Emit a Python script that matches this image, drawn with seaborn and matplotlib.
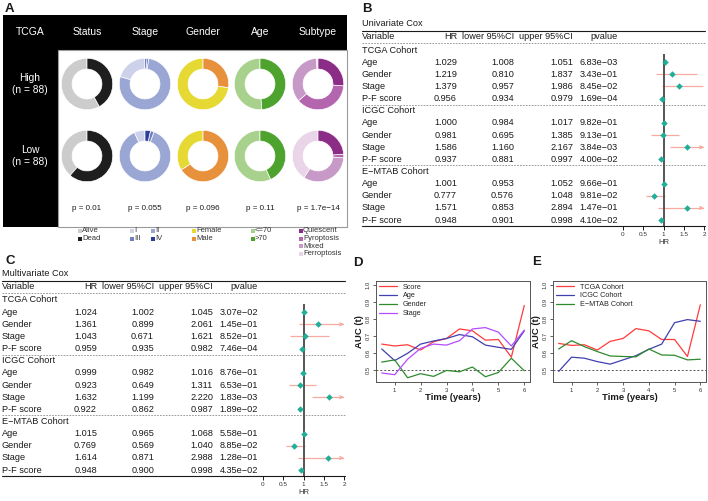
import matplotlib
matplotlib.use("Agg")
import matplotlib.pyplot as plt
from matplotlib.patches import Rectangle
import seaborn as sns
import pandas as pd

sns.set_theme(style="white")
plt.rcParams['font.family'] = ['Liberation Sans', 'DejaVu Sans']

W, H = 708, 501

# ---------------- panel A data ----------------
features = ["Status", "Stage", "Gender", "Age", "Subtype"]
group_labels = ["High\n(n = 88)", "Low\n(n = 88)"]
status_levels = ["Alive", "Dead"]
stage_levels = ["I", "II", "III", "IV"]
gender_levels = ["Female", "Male"]
age_levels = ["<=70", ">70"]
subtype_levels = ["Ferroptosis", "Mixed", "Pyroptosis", "Quiescent"]

status_high = [51, 37]
status_low = [34, 54]
stage_high = [18, 68, 1, 1]
stage_low = [6, 77, 2, 3]
gender_high = [64, 24]
gender_low = [30, 58]
age_high = [45, 43]
age_low = [50, 38]
subtype_high = [1, 31, 33, 23]
subtype_low = [36, 29, 2, 21]

p_values = ["p = 0.01", "p = 0.055", "p = 0.096", "p = 0.11", "p = 1.7e\u221214"]

status_colors = ["#cccccc", "#1e1e1e"]
stage_colors = ["#cdd2ea", "#9aa6d3", "#6e7dc1", "#2c3e9c"]
gender_colors = ["#e7d933", "#e8913d"]
age_colors = ["#a9d18e", "#4ea22e"]
subtype_colors = ["#e9d4e8", "#c799c7", "#b366ae", "#8b2c87"]

# ---------------- panel B / C data ----------------
cohorts = ["TCGA Cohort", "ICGC Cohort", "E\u2212MTAB Cohort"]
variables = ["Age", "Gender", "Stage", "P-F score"]

uni_hr = [1.029, 1.219, 1.379, 0.956, 1.000, 0.981, 1.586, 0.937, 1.001, 0.777, 1.571, 0.948]
uni_lower = [1.008, 0.810, 0.957, 0.934, 0.984, 0.695, 1.160, 0.881, 0.953, 0.576, 0.853, 0.901]
uni_upper = [1.051, 1.837, 1.986, 0.979, 1.017, 1.385, 2.167, 0.997, 1.052, 1.048, 2.894, 0.998]
uni_p = ["6.83e\u221203", "3.43e\u221201", "8.45e\u221202", "1.69e\u221204",
         "9.82e\u221201", "9.13e\u221201", "3.84e\u221203", "4.00e\u221202",
         "9.66e\u221201", "9.81e\u221202", "1.47e\u221201", "4.10e\u221202"]

multi_hr = [1.024, 1.361, 1.043, 0.959, 0.999, 0.923, 1.632, 0.922, 1.015, 0.769, 1.614, 0.948]
multi_lower = [1.002, 0.899, 0.671, 0.935, 0.982, 0.649, 1.199, 0.862, 0.965, 0.569, 0.871, 0.900]
multi_upper = [1.045, 2.061, 1.621, 0.982, 1.016, 1.311, 2.220, 0.987, 1.068, 1.040, 2.988, 0.998]
multi_p = ["3.07e\u221202", "1.45e\u221201", "8.52e\u221201", "7.46e\u221204",
           "8.76e\u221201", "6.53e\u221201", "1.83e\u221203", "1.89e\u221202",
           "5.58e\u221201", "8.85e\u221202", "1.28e\u221201", "4.35e\u221202"]

# ---------------- panel D / E data ----------------
times = [0.5, 1, 1.5, 2, 2.5, 3, 3.5, 4, 4.5, 5, 5.5, 6]
auc_score = [0.651, 0.640, 0.647, 0.616, 0.665, 0.684, 0.740, 0.729, 0.674, 0.678, 0.574, 0.878]
auc_age = [0.622, 0.554, 0.597, 0.651, 0.669, 0.684, 0.707, 0.694, 0.645, 0.632, 0.620, 0.729]
auc_gender = [0.545, 0.558, 0.453, 0.477, 0.461, 0.496, 0.488, 0.516, 0.459, 0.484, 0.568, 0.494]
auc_stage = [0.481, 0.471, 0.562, 0.626, 0.651, 0.645, 0.671, 0.740, 0.748, 0.721, 0.640, 0.733]

auc_tcga = [0.655, 0.643, 0.647, 0.616, 0.667, 0.684, 0.742, 0.729, 0.678, 0.678, 0.578, 0.882]
auc_icgc = [0.490, 0.574, 0.568, 0.548, 0.533, 0.558, 0.583, 0.620, 0.651, 0.777, 0.795, 0.785]
auc_emtab = [0.622, 0.671, 0.636, 0.607, 0.581, 0.578, 0.576, 0.622, 0.587, 0.585, 0.558, 0.562]

fig = plt.figure(figsize=(W / 100, H / 100), dpi=100)


def px_axes(x0, y0, x1, y1):
    return fig.add_axes([x0 / W, 1 - y1 / H, (x1 - x0) / W, (y1 - y0) / H])


ov = px_axes(0, 0, W, H)
ov.set_xlim(0, W)
ov.set_ylim(H, 0)
ov.axis('off')

ink = "#1a1a1a"

# panel letters
for letter, (lx, ly) in zip("ABCDE", [(5, 9), (362, 9), (5, 261), (353, 263), (532, 262)]):
    ov.text(lx, ly, letter, fontsize=9.5, fontweight='bold', va='center', ha='left', color=ink)

# ---------------- panel A ----------------
ov.add_patch(Rectangle((3, 15), 344, 212, facecolor='black', edgecolor='none'))
ov.add_patch(Rectangle((58, 50), 289, 177, facecolor='white', edgecolor='#9a9a9a', lw=0.8))

col_x = [87, 145, 203, 260, 318]
row_y = [84, 156]
ov.text(30, 32, "TCGA", color='white', fontsize=7.5, ha='center', va='center')
for cx, feat in zip(col_x, features):
    ov.text(cx, 32, feat, color='white', fontsize=7.5, ha='center', va='center')
for cy, lab in zip(row_y, group_labels):
    ov.text(30, cy, lab, color='white', fontsize=7.3, ha='center', va='center', linespacing=1.15)

pie_data = [
    (status_high, status_low, status_colors),
    (stage_high, stage_low, stage_colors),
    (gender_high, gender_low, gender_colors),
    (age_high, age_low, age_colors),
    (subtype_high, subtype_low, subtype_colors),
]
for cx, (hi, lo, cols) in zip(col_x, pie_data):
    for cy, counts in zip(row_y, [hi, lo]):
        pax = px_axes(cx - 26, cy - 26, cx + 26, cy + 26)
        pax.pie(counts, colors=cols, startangle=90, counterclock=True,
                wedgeprops=dict(width=0.42, edgecolor='white', linewidth=0.5))
        pax.set_xlim(-1.01, 1.01)
        pax.set_ylim(-1.01, 1.01)

for cx, p in zip(col_x, p_values):
    ov.text(cx, 208, p, fontsize=5.8, ha='center', va='center', color=ink)

legend_rows = [231, 238.5, 246, 253.5]
legend_items = [
    [(78, 0, "Alive", status_colors[0]), (78, 1, "Dead", status_colors[1])],
    [(130, 0, "I", stage_colors[0]), (151, 0, "II", stage_colors[1]),
     (130, 1, "III", stage_colors[2]), (151, 1, "IV", stage_colors[3])],
    [(192, 0, "Female", gender_colors[0]), (192, 1, "Male", gender_colors[1])],
    [(251, 0, "<=70", age_colors[0]), (251, 1, ">70", age_colors[1])],
    [(299, 0, "Quiescent", subtype_colors[3]), (299, 1, "Pyroptosis", subtype_colors[2]),
     (299, 2, "Mixed", subtype_colors[1]), (299, 3, "Ferroptosis", subtype_colors[0])],
]
for items in legend_items:
    for lx, r, lab, c in items:
        ov.scatter([lx + 1.5], [legend_rows[r]], marker='s', s=7, color=c, linewidths=0)
        ov.text(lx + 4, legend_rows[r], lab, fontsize=5.5, va='center', ha='left', color='#333333')


# ---------------- panels B / C ----------------
def draw_cox(x0, y0, title, hr, lower, upper, pvals):
    def ry(k):
        return y0 + 50 + 12.15 * k

    fs = 6.6
    ov.text(x0 + 2, ry(-2.15), title, fontsize=fs, va='center', ha='left', color=ink)
    ov.plot([x0 + 2, x0 + 345], [ry(-1.55)] * 2, color=ink, lw=0.8)
    hy = ry(-1.1)
    ov.text(x0 + 2, hy, "Variable", fontsize=fs, va='center', ha='left', color=ink)
    ov.text(x0 + 97, hy, "HR", fontsize=fs, va='center', ha='right', color=ink)
    ov.text(x0 + 154, hy, "lower 95%CI", fontsize=fs, va='center', ha='right', color=ink)
    ov.text(x0 + 213, hy, "upper 95%CI", fontsize=fs, va='center', ha='right', color=ink)
    ov.text(x0 + 258, hy, "pvalue", fontsize=fs, va='center', ha='right', color=ink)
    for kk in [-0.55, 4.5, 9.5]:
        ov.plot([x0 + 2, x0 + 345], [ry(kk)] * 2, color='#8a8a8a', lw=0.6, ls=(0, (2, 1.5)))
    ov.plot([x0 + 2, x0 + 345], [ry(14.5)] * 2, color=ink, lw=0.8)

    rows = []
    for c, coh in enumerate(cohorts):
        ov.text(x0 + 2, ry(5 * c), coh, fontsize=fs, va='center', ha='left', color=ink)
        for v, var in enumerate(variables):
            i = 4 * c + v
            k = 5 * c + v + 1
            y = ry(k)
            ov.text(x0 + 2, y, var, fontsize=fs, va='center', ha='left', color=ink)
            ov.text(x0 + 97, y, f"{hr[i]:.3f}", fontsize=fs, va='center', ha='right', color=ink)
            ov.text(x0 + 154, y, f"{lower[i]:.3f}", fontsize=fs, va='center', ha='right', color=ink)
            ov.text(x0 + 213, y, f"{upper[i]:.3f}", fontsize=fs, va='center', ha='right', color=ink)
            ov.text(x0 + 258, y, pvals[i], fontsize=fs, va='center', ha='right', color=ink)
            rows.append(dict(k=k, hr=hr[i], lower=lower[i], upper=upper[i]))
    df = pd.DataFrame(rows)

    fax = px_axes(x0 + 263, ry(0.3), x0 + 344, ry(14.5))
    fax.set_facecolor('none')
    line_col = "#f7aaa0"
    fax.hlines(df.k, df.lower, df.upper.clip(upper=2), color=line_col, lw=0.9)
    for _, r in df[df.upper > 2].iterrows():
        fax.annotate('', xy=(2.0, r.k), xytext=(1.9, r.k),
                     arrowprops=dict(arrowstyle='->', color=line_col, lw=0.9,
                                     mutation_scale=5, shrinkA=0, shrinkB=0),
                     annotation_clip=False)
    fax.axvline(1, color='#555555', lw=1.4, zorder=2)
    sns.scatterplot(data=df, x='hr', y='k', marker='D', color='#1fae98', s=11,
                    linewidth=0, ax=fax, zorder=3)
    fax.set_xlim(0, 2)
    fax.set_ylim(14.5, 0.3)
    for s in ['top', 'left', 'right', 'bottom']:
        fax.spines[s].set_visible(False)
    fax.set_yticks([])
    fax.set_xticks([0, 0.5, 1, 1.5, 2])
    fax.set_xticklabels(["0", "0.5", "1", "1.5", "2"])
    fax.tick_params(axis='x', labelsize=4.6, length=3, width=0.7, color=ink,
                    labelcolor='#333333', pad=1.5, bottom=True)
    fax.set_xlabel("HR", fontsize=5.5, labelpad=1, color='#333333')
    fax.set_ylabel("")


draw_cox(360, 0, "Univariate Cox", uni_hr, uni_lower, uni_upper, uni_p)
draw_cox(0, 250, "Multivariate Cox", multi_hr, multi_lower, multi_upper, multi_p)


# ---------------- panels D / E ----------------
def draw_auc(box, series, names, colors):
    x0, y0, x1, y1 = box
    ax = px_axes(x0, y0, x1, y1)
    frames = [pd.DataFrame({'time': times, 'auc': vals, 'var': nm}) for vals, nm in zip(series, names)]
    df = pd.concat(frames, ignore_index=True)
    ax.axhline(0.5, color='#555555', lw=0.7, ls=(0, (2, 2)))
    sns.lineplot(data=df, x='time', y='auc', hue='var', hue_order=names,
                 palette=colors, linewidth=0.9, ax=ax)
    ax.set_xlim(0.28, 6.22)
    ax.set_ylim(0.428, 1.022)
    ax.set_xticks([1, 2, 3, 4, 5, 6])
    ax.set_yticks([0.5, 0.6, 0.7, 0.8, 0.9, 1.0])
    ax.set_yticklabels(["0.5", "0.6", "0.7", "0.8", "0.9", "1.0"], rotation=90, va='center')
    ax.tick_params(labelsize=4.2, length=2.5, width=0.6, color='#444444',
                   labelcolor='#333333', pad=1.5, bottom=True, left=True)
    for s in ax.spines.values():
        s.set_color('#555555')
        s.set_linewidth(0.7)
    ax.set_xlabel("Time (years)", fontsize=6.8, fontweight='bold', labelpad=0.5, color=ink)
    ax.set_ylabel("AUC (t)", fontsize=6.8, fontweight='bold', labelpad=1, color=ink)
    ax.legend(loc='upper left', frameon=False, fontsize=5.2, handlelength=2.6,
              handletextpad=0.8, labelspacing=0.25, borderaxespad=0.15,
              borderpad=0.2)
    return ax


draw_auc((376, 281, 530, 382), [auc_score, auc_age, auc_gender, auc_stage],
         ["Score", "Age", "Gender", "Stage"],
         ["#ff3b3b", "#4040b0", "#2f8a2f", "#b44cff"])
draw_auc((553, 281, 706, 382), [auc_tcga, auc_icgc, auc_emtab],
         ["TCGA Cohort", "ICGC Cohort", "E\u2212MTAB Cohort"],
         ["#ff3b3b", "#4040b0", "#2f8a2f"])

fig.savefig("out.png", dpi=100)
